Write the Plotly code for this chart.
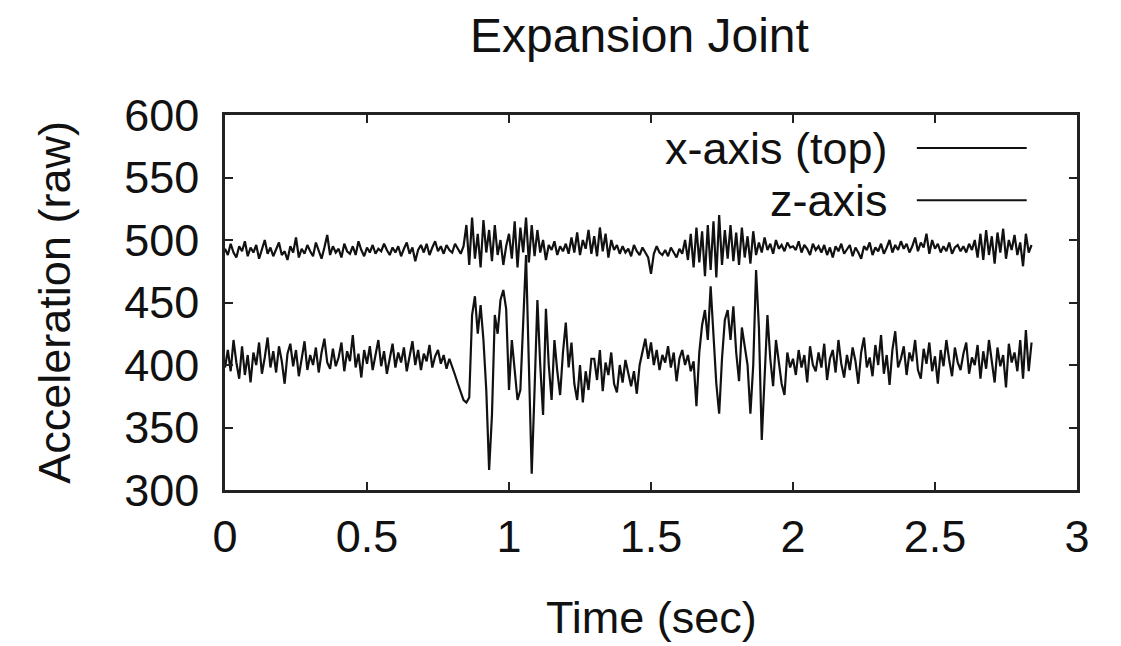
import plotly.graph_objects as go

# Sampling
t_start = 0.0
t_step = 0.01

# x-axis (top) sensor, raw acceleration
x_axis_top = [
    493, 488, 497, 490, 486, 495, 491, 499, 487, 494,
    490, 496, 485, 492, 500, 489, 494, 487, 493, 498,
    488, 491, 484, 495, 490, 502, 486, 493, 489, 496,
    491, 487, 498, 492, 485, 494, 504, 488, 495, 490,
    493, 486, 497, 491, 489, 495, 488, 499, 492, 487,
    494, 490, 496, 489, 493, 491, 497, 492, 488, 494,
    490, 495, 487, 493, 498, 489, 494, 483, 492, 496,
    490, 497, 488, 494, 499, 491, 495, 489, 496, 492,
    490, 497, 493, 489, 495,
    512, 480, 518, 485, 505,
    478, 516, 490, 508, 483, 512, 488, 500, 480, 495,
    505, 485, 515, 478, 510, 490, 518, 482, 512, 487,
    508, 490, 500, 484, 496, 492, 499, 488, 495, 491,
    497, 489, 502, 490, 506, 488, 500, 493, 508, 489,
    503, 487, 510, 491, 505, 486, 500, 492, 496, 489,
    495, 490, 493, 487, 496, 491, 488, 494, 490, 486,
    473, 489, 495, 490, 488, 492, 487, 494, 490, 486,
    493, 489, 500, 484, 505, 478, 510, 482, 507, 471,
    512, 476, 515, 470, 520, 480, 508, 485, 512, 483,
    506, 480, 510, 486, 503, 481, 507, 488, 498, 490,
    502, 492, 497, 489, 500, 493, 496, 491, 498, 494,
    495, 492, 499, 490, 496, 493, 488, 497, 492, 495,
    490, 496, 488, 494, 486, 495, 491, 497, 489, 493,
    496, 487, 494, 490, 485, 495, 492, 498, 488, 494,
    491, 497, 489, 494, 500, 490, 496, 492, 499, 493,
    497, 490, 495, 502, 491, 498, 494, 505, 489, 500,
    493, 497, 490, 495, 491, 498, 489, 494, 496, 491,
    495, 490, 497, 492, 500, 486, 505, 484, 508, 488,
    503, 481, 506, 490, 509, 485, 500, 492, 504, 488,
    498, 479, 505, 490, 496,
]

# z-axis sensor, raw acceleration
z_axis = [
    398, 412, 395, 420, 402, 389, 415, 392, 408, 386,
    410, 400, 418, 393, 406, 422, 398, 411, 394, 415,
    403, 385, 409, 417, 399, 412, 391, 405, 419, 396,
    408, 400, 414, 394, 410, 421, 402, 397, 413, 399,
    406, 418, 395, 411, 403, 424, 398, 409, 390, 412,
    401, 415, 396, 408, 420, 399, 411, 393, 405, 417,
    398, 410, 402, 414, 395, 407, 419, 400, 412, 396,
    409, 403, 416, 398, 407, 412, 401, 408, 397, 405,
    399, 392, 385, 378, 372,
    370, 374, 440, 455, 425,
    448, 420, 380, 316, 360, 440, 425, 452, 460, 445,
    380, 420, 395, 372, 380, 440, 488, 400, 313, 380,
    452, 400, 360, 445, 400, 372, 420, 395, 376, 410,
    434, 398, 418, 385, 372, 400, 370, 395, 380, 405,
    405, 388, 412, 379, 402, 392, 410, 385, 378, 400,
    386, 404, 392, 383, 395, 377, 400, 412, 421, 405,
    418, 400, 412, 396, 408, 402, 415, 398, 410, 387,
    405, 412, 400, 408, 395, 403, 367, 410, 432, 444,
    420, 463, 420, 385, 361, 405, 436, 444, 420, 447,
    410, 387, 430, 415, 400, 361, 400, 476, 430, 340,
    395, 440, 405, 383, 420, 400, 385, 376, 410, 398,
    405, 392, 412, 398, 408, 386, 415, 400, 395, 410,
    398, 417, 388, 405, 412, 394, 420, 401, 390, 408,
    396, 414, 403, 385, 410, 422, 398, 406, 391, 416,
    400, 424, 393, 408, 384, 412, 427, 398, 405, 415,
    392, 410, 403, 420, 396, 389, 413, 401, 418, 395,
    407, 385, 412, 399, 420, 404, 391, 414, 402, 396,
    409, 418, 393, 406, 400, 416, 389, 411, 397, 420,
    403, 386, 414, 399, 408, 382, 417, 402, 410, 395,
    420, 389, 428, 395, 418,
]

time_x = [round(t_start + i * t_step, 2) for i in range(len(x_axis_top))]
time_z = [round(t_start + i * t_step, 2) for i in range(len(z_axis))]

series_names = ["x-axis (top)", "z-axis"]
x_ticks = [0, 0.5, 1, 1.5, 2, 2.5, 3]
x_tick_labels = ["0", "0.5", "1", "1.5", "2", "2.5", "3"]
y_ticks = [300, 350, 400, 450, 500, 550, 600]
y_tick_labels = ["300", "350", "400", "450", "500", "550", "600"]

FONT = "Liberation Sans, Arial, Helvetica, sans-serif"
INK = "#111111"
FS = 45

fig = go.Figure()
fig.add_trace(go.Scatter(x=time_x, y=x_axis_top, mode="lines", name=series_names[0],
                         line=dict(color=INK, width=2.2), showlegend=False))
fig.add_trace(go.Scatter(x=time_z, y=z_axis, mode="lines", name=series_names[1],
                         line=dict(color=INK, width=2.2), showlegend=False))

axis_common = dict(
    showgrid=False, zeroline=False, showline=True, linecolor="#222222", linewidth=2.5,
    mirror="ticks", ticks="inside", ticklen=8, tickwidth=1.5, tickcolor="#222222",
    tickfont=dict(family=FONT, size=FS, color=INK),
)

# the page body adds an 8px offset; margins compensate so the frame sits where the reference has it
fig.update_layout(
    width=1121, height=646,
    paper_bgcolor="white", plot_bgcolor="white",
    margin=dict(l=217, r=52, t=107, b=164),
    xaxis=dict(range=[0, 3], tickvals=x_ticks, ticktext=x_tick_labels,
               ticklabelstandoff=5, **axis_common),
    yaxis=dict(range=[300, 600], tickvals=y_ticks, ticktext=y_tick_labels,
               ticklabelstandoff=14, **axis_common),
)

# titles placed relative to the plot frame
fig.add_annotation(text="Expansion Joint", x=0.487, y=1.213, xref="paper", yref="paper",
                   xanchor="center", yanchor="middle", showarrow=False,
                   font=dict(family=FONT, size=48, color=INK))
fig.add_annotation(text="Time (sec)", x=0.5, y=-0.339, xref="paper", yref="paper",
                   xanchor="center", yanchor="middle", showarrow=False,
                   font=dict(family=FONT, size=FS, color=INK))
fig.add_annotation(text="Acceleration (raw)", x=-0.2, y=0.501, xref="paper", yref="paper",
                   xanchor="center", yanchor="middle", textangle=-90, showarrow=False,
                   font=dict(family=FONT, size=FS, color=INK))

# gnuplot-style key: label on the left, line sample on the right
key_rows = [(series_names[0], 0.912), (series_names[1], 0.773)]
for label, ky in key_rows:
    fig.add_annotation(text=label, x=0.781, y=ky, xref="paper", yref="paper",
                       xanchor="right", yanchor="middle", showarrow=False,
                       font=dict(family=FONT, size=FS, color=INK))
    fig.add_shape(type="line", x0=0.812, x1=0.941, y0=ky, y1=ky, xref="paper", yref="paper",
                  line=dict(color=INK, width=2))

fig.write_html("out.html")
